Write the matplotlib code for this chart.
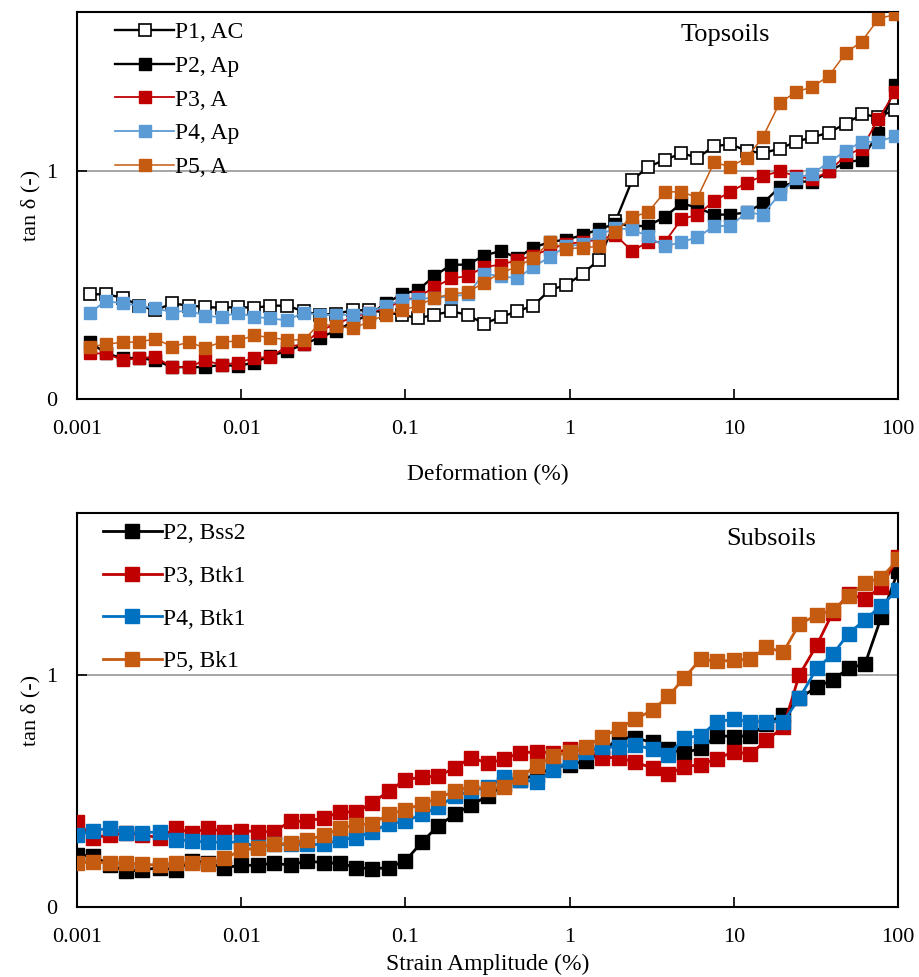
from matplotlib import pyplot as plt
from matplotlib.ticker import FixedLocator, FixedFormatter, NullLocator

# strain grids (%)
x_top = [0.0012, 0.0015, 0.0019, 0.0024, 0.003, 0.0038, 0.0048, 0.006, 0.0076, 0.0095,
         0.012, 0.015, 0.019, 0.024, 0.03, 0.038, 0.048, 0.06, 0.076, 0.095,
         0.12, 0.15, 0.19, 0.24, 0.3, 0.38, 0.48, 0.6, 0.76, 0.95,
         1.2, 1.5, 1.9, 2.4, 3.0, 3.8, 4.8, 6.0, 7.6, 9.5,
         12, 15, 19, 24, 30, 38, 48, 60, 76, 96]

x_bot = [0.001, 0.00126, 0.00158, 0.002, 0.0025, 0.0032, 0.004, 0.005, 0.0063, 0.0079,
         0.01, 0.0126, 0.0158, 0.02, 0.025, 0.032, 0.04, 0.05, 0.063, 0.079,
         0.1, 0.126, 0.158, 0.2, 0.25, 0.32, 0.4, 0.5, 0.63, 0.79,
         1.0, 1.26, 1.58, 2.0, 2.5, 3.2, 4.0, 5.0, 6.3, 7.9,
         10, 12.6, 15.8, 20, 25, 32, 40, 50, 63, 79, 100]

# Topsoils, tan delta
p1_ac = [0.46, 0.46, 0.445, 0.41, 0.39, 0.42, 0.41, 0.405, 0.40, 0.405,
         0.40, 0.41, 0.41, 0.385, 0.37, 0.375, 0.39, 0.39, 0.38, 0.37,
         0.355, 0.37, 0.385, 0.37, 0.33, 0.36, 0.385, 0.41, 0.48, 0.50,
         0.55, 0.61, 0.78, 0.96, 1.02, 1.05, 1.08, 1.06, 1.11, 1.12,
         1.09, 1.08, 1.10, 1.13, 1.15, 1.17, 1.21, 1.25, 1.24, 1.27]
p2_ap = [0.25, 0.20, 0.18, 0.18, 0.17, 0.14, 0.14, 0.14, 0.15, 0.145,
         0.16, 0.19, 0.21, 0.24, 0.27, 0.30, 0.34, 0.37, 0.42, 0.46,
         0.48, 0.54, 0.59, 0.59, 0.63, 0.65, 0.62, 0.665, 0.69, 0.70,
         0.72, 0.745, 0.77, 0.76, 0.76, 0.80, 0.86, 0.84, 0.81, 0.81,
         0.82, 0.86, 0.93, 0.955, 0.955, 1.00, 1.04, 1.05, 1.17, 1.38]
p3_a = [0.20, 0.20, 0.17, 0.18, 0.185, 0.14, 0.14, 0.17, 0.15, 0.16,
        0.18, 0.185, 0.23, 0.24, 0.30, 0.33, 0.36, 0.38, 0.40, 0.43,
        0.45, 0.49, 0.53, 0.54, 0.58, 0.59, 0.61, 0.63, 0.66, 0.68,
        0.69, 0.70, 0.72, 0.65, 0.69, 0.69, 0.79, 0.81, 0.87, 0.91,
        0.95, 0.98, 1.00, 0.98, 0.965, 1.00, 1.07, 1.10, 1.23, 1.35]
p4_ap = [0.38, 0.43, 0.42, 0.41, 0.40, 0.38, 0.39, 0.365, 0.36, 0.38,
         0.36, 0.355, 0.345, 0.38, 0.37, 0.37, 0.37, 0.38, 0.41, 0.435,
         0.44, 0.445, 0.45, 0.46, 0.55, 0.54, 0.53, 0.58, 0.625, 0.67,
         0.68, 0.72, 0.75, 0.745, 0.715, 0.67, 0.69, 0.71, 0.76, 0.76,
         0.82, 0.81, 0.90, 0.97, 0.99, 1.04, 1.09, 1.13, 1.13, 1.155]
p5_a = [0.23, 0.24, 0.25, 0.25, 0.265, 0.23, 0.25, 0.225, 0.25, 0.255,
        0.28, 0.27, 0.26, 0.26, 0.33, 0.32, 0.31, 0.34, 0.37, 0.39,
        0.41, 0.445, 0.46, 0.47, 0.51, 0.555, 0.58, 0.62, 0.69, 0.66,
        0.665, 0.67, 0.735, 0.80, 0.82, 0.91, 0.91, 0.885, 1.04, 1.02,
        1.06, 1.15, 1.30, 1.35, 1.37, 1.42, 1.52, 1.57, 1.67, 1.69]

# Subsoils, tan delta
p2_bss2 = [0.225, 0.22, 0.18, 0.155, 0.16, 0.17, 0.16, 0.20, 0.19, 0.17,
           0.18, 0.18, 0.19, 0.18, 0.20, 0.19, 0.19, 0.17, 0.165, 0.17,
           0.20, 0.28, 0.35, 0.40, 0.44, 0.48, 0.53, 0.55, 0.57, 0.60,
           0.615, 0.63, 0.67, 0.73, 0.73, 0.71, 0.68, 0.665, 0.685, 0.74,
           0.735, 0.74, 0.79, 0.83, 0.90, 0.95, 0.98, 1.03, 1.05, 1.25, 1.45]
p3_btk1 = [0.365, 0.30, 0.31, 0.32, 0.31, 0.30, 0.34, 0.32, 0.34, 0.325,
           0.33, 0.325, 0.325, 0.37, 0.37, 0.385, 0.41, 0.41, 0.45, 0.50,
           0.55, 0.56, 0.565, 0.60, 0.645, 0.62, 0.64, 0.665, 0.67, 0.665,
           0.68, 0.675, 0.645, 0.645, 0.625, 0.60, 0.575, 0.605, 0.615, 0.64,
           0.67, 0.66, 0.72, 0.775, 1.00, 1.13, 1.27, 1.35, 1.33, 1.38, 1.51]
p4_btk1 = [0.31, 0.33, 0.34, 0.32, 0.32, 0.325, 0.29, 0.285, 0.28, 0.28,
           0.28, 0.26, 0.27, 0.27, 0.27, 0.27, 0.29, 0.30, 0.325, 0.36,
           0.37, 0.40, 0.43, 0.48, 0.50, 0.52, 0.56, 0.55, 0.54, 0.59,
           0.63, 0.67, 0.69, 0.69, 0.70, 0.68, 0.655, 0.73, 0.74, 0.80,
           0.81, 0.80, 0.80, 0.80, 0.90, 1.03, 1.09, 1.18, 1.24, 1.30, 1.37]
p5_bk1 = [0.19, 0.195, 0.19, 0.19, 0.185, 0.18, 0.19, 0.19, 0.185, 0.21,
          0.245, 0.255, 0.27, 0.275, 0.29, 0.31, 0.34, 0.355, 0.36, 0.40,
          0.42, 0.445, 0.47, 0.50, 0.52, 0.51, 0.52, 0.56, 0.61, 0.65,
          0.67, 0.69, 0.735, 0.77, 0.81, 0.85, 0.91, 0.99, 1.07, 1.06,
          1.065, 1.07, 1.12, 1.10, 1.22, 1.26, 1.28, 1.34, 1.40, 1.42, 1.50]

xtick_vals = [0.001, 0.01, 0.1, 1, 10, 100]
xtick_labels = ["0.001", "0.01", "0.1", "1", "10", "100"]

plt.rcParams["font.family"] = ["Liberation Serif", "DejaVu Serif"]
plt.rcParams["font.size"] = 16

black = "#000000"
red = "#C00000"
lblue = "#5B9BD5"
dblue = "#0070C0"
orange = "#C55A11"

fig = plt.figure(figsize=(9.19, 9.77), dpi=100)
ax1 = fig.add_axes([0.0838, 0.5916, 0.8934, 0.3961])
ax2 = fig.add_axes([0.0838, 0.0716, 0.8934, 0.4033])


def style_axis(ax, xlabel, title, title_x, title_y):
    ax.set_xscale("log")
    ax.set_xlim(0.001, 100)
    ax.set_ylim(0, 1.7)
    ax.xaxis.set_major_locator(FixedLocator(xtick_vals))
    ax.xaxis.set_major_formatter(FixedFormatter(xtick_labels))
    ax.xaxis.set_minor_locator(NullLocator())
    ax.set_yticks([0, 1])
    ax.set_yticklabels(["0", "1"])
    ax.tick_params(axis="both", direction="in", length=7, width=1.2,
                   labelsize=16)
    ax.tick_params(axis="x", pad=15)
    ax.tick_params(axis="y", pad=14)
    ax.axhline(1, color="#A6A6A6", lw=1.4, zorder=1)
    for s in ax.spines.values():
        s.set_linewidth(1.5)
    ax.set_xlabel(xlabel, fontsize=17)
    ax.set_ylabel("tan δ (-)", fontsize=16, labelpad=4)
    ax.text(title_x, title_y, title, transform=ax.transAxes, fontsize=19,
            ha="center", va="center")


ax1.plot(x_top, p1_ac, "-s", color=black, lw=1.7, ms=9, mfc="white",
         mec=black, mew=1.2, label="P1, AC", zorder=3)
ax1.plot(x_top, p2_ap, "-s", color=black, lw=1.7, ms=9, label="P2, Ap", zorder=3)
ax1.plot(x_top, p3_a, "-s", color=red, lw=1.3, ms=9, label="P3, A", zorder=3)
ax1.plot(x_top, p4_ap, "-s", color=lblue, lw=1.3, ms=9, label="P4, Ap", zorder=3)
ax1.plot(x_top, p5_a, "-s", color=orange, lw=1.1, ms=9, label="P5, A", zorder=3)
style_axis(ax1, "Deformation (%)", "Topsoils", 0.79, 0.94)
ax1.xaxis.labelpad = 18
ax1.legend(loc="upper left", frameon=False, fontsize=17, handlelength=2.5,
           handletextpad=0.05, labelspacing=0.52, borderaxespad=0.0,
           bbox_to_anchor=(0.035, 1.0))

ax2.plot(x_bot, p2_bss2, "-s", color=black, lw=2.0, ms=9.5, label="P2, Bss2", zorder=3)
ax2.plot(x_bot, p3_btk1, "-s", color=red, lw=2.0, ms=9.5, label="P3, Btk1", zorder=3)
ax2.plot(x_bot, p4_btk1, "-s", color=dblue, lw=2.0, ms=9.5, label="P4, Btk1", zorder=3)
ax2.plot(x_bot, p5_bk1, "-s", color=orange, lw=2.0, ms=9.5, label="P5, Bk1", zorder=3)
style_axis(ax2, "Strain Amplitude (%)", "Subsoils", 0.845, 0.935)
ax2.xaxis.labelpad = 5
ax2.legend(loc="upper left", frameon=False, fontsize=17, handlelength=2.5,
           handletextpad=0.05, labelspacing=0.9, borderaxespad=0.0,
           bbox_to_anchor=(0.02, 1.0))

fig.savefig("out.png", dpi=100)
